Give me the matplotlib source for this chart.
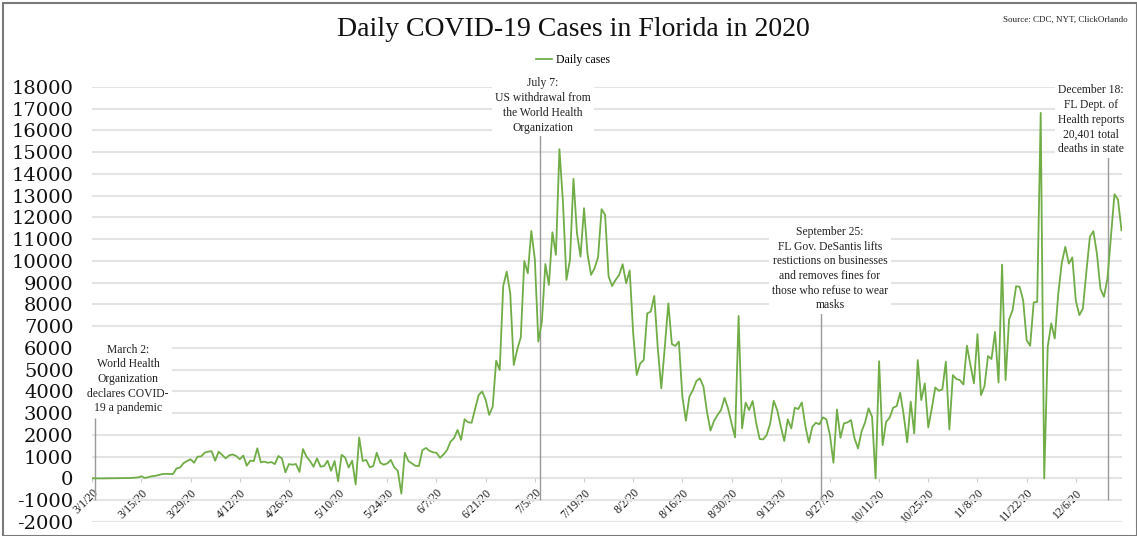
import matplotlib.pyplot as plt
from matplotlib.patches import Rectangle

# x axis labels every 14 days, starting 3/1/20
tick_labels = ['3/1/20', '3/15/20', '3/29/20', '4/12/20', '4/26/20', '5/10/20',
               '5/24/20', '6/7/20', '6/21/20', '7/5/20', '7/19/20', '8/2/20',
               '8/16/20', '8/30/20', '9/13/20', '9/27/20', '10/11/20', '10/25/20',
               '11/8/20', '11/22/20', '12/6/20']

# daily new cases, one value per day from 3/1/20
daily_cases = [
    2, 0, 1, 0, 2, 4, 7, 5, 6, 11, 14, 19, 30, 45,
    100, 20, 60, 100, 120, 160, 200, 210, 205, 200,
    460, 500, 700, 800, 880, 720, 1000, 1010, 1180, 1230,
    1250, 815, 1230, 1080, 920, 1060, 1100, 1030, 880, 1050,
    585, 815, 800, 1385, 740, 770, 720, 750, 660, 1030,
    920, 280, 660, 630, 660, 300, 1350, 1000, 800, 540,
    920, 540, 570, 815, 350, 800, -120, 1080, 960, 500,
    815, -280, 1880, 800, 850, 510, 570, 1180, 720, 630,
    690, 850, 510, 350, -700, 1180, 800, 690, 580, 570,
    1300, 1400, 1270, 1200, 1180, 950, 1100, 1300, 1690, 1850,
    2230, 1770, 2720, 2580, 2560, 3200, 3830, 4000, 3615, 2920,
    3300, 5415, 4985, 8850, 9510, 8510, 5215, 5935, 6490, 10000,
    9430, 11380, 10080, 6290, 7210, 9860, 8900, 11320, 10280, 15140,
    12730, 9130, 10050, 13775, 11275, 10200, 12425, 10325, 9360, 9665,
    10170, 12380, 12120, 9280, 8850, 9130, 9360, 9850, 8975, 9560,
    6670, 4755, 5290, 5445, 7590, 7670, 8390, 5980, 4140, 6060,
    8050, 6180, 6090, 6290, 3760, 2655, 3760, 4065, 4480, 4600,
    4220, 3060, 2200, 2640, 2915, 3145, 3710, 3220, 2530, 1885,
    7470, 2300, 3480, 3145, 3560, 2560, 1810, 1795, 1995, 2530,
    3570, 3140, 2400, 1720, 2715, 2300, 3250, 3190, 3495, 2420,
    1645, 2375, 2560, 2485, 2805, 2715, 1995, 720, 3175, 1870,
    2530, 2575, 2685, 1840, 1380, 2150, 2575, 3220, 2835, 0,
    5390, 1530, 2605, 2790, 3250, 3325, 3940, 2910, 1660, 3525,
    2070, 5440, 3600, 4370, 2345, 3220, 4185, 4030, 4090, 5365,
    2250, 4750, 4570, 4520, 4320, 6100, 5210, 4370, 6635, 3830,
    4245, 5625, 5490, 6740, 4410, 9830, 4520, 7310, 7740, 8840,
    8810, 8200, 6360, 6100, 8090, 8120, 16810, 0, 6050, 7130,
    6435, 8500, 9910, 10650, 9880, 10160, 8170, 7510, 7810, 9500,
    11110, 11370, 10340, 8730, 8350, 9190, 11110, 13070, 12820, 11410,
]

event_texts = [
    'March 2:\nWorld Health\nOrganization\ndeclares COVID-\n19 a pandemic',
    'July 7:\nUS withdrawal from\nthe World Health\nOrganization',
    'September 25:\nFL Gov. DeSantis lifts\nrestictions on businesses\nand removes fines for\nthose who refuse to wear\nmasks',
    'December 18:\nFL Dept. of\nHealth reports\n20,401 total\ndeaths in state',
]

plt.rcParams['font.family'] = ['Liberation Serif', 'DejaVu Serif']

W, H = 1137, 536
fig = plt.figure(figsize=(W / 100, H / 100), dpi=100)
x0, x1 = 92.2, 1121.5
y_top, y_bot = 87.0, 521.9
ax = fig.add_axes([x0 / W, 1 - y_bot / H, (x1 - x0) / W, (y_bot - y_top) / H])

days = list(range(len(daily_cases)))
line, = ax.plot(days, daily_cases, color='#70ad47', lw=1.3, zorder=3, label='Daily cases')

ax.set_xlim(0, len(daily_cases) - 1)
ax.set_ylim(-2000, 18000)
ax.set_yticks(range(-2000, 18001, 1000))
ax.set_yticklabels([str(v) for v in range(-2000, 18001, 1000)],
                   fontfamily='DejaVu Serif', fontsize=14)
ax.yaxis.grid(True, color='#e4e4e4', lw=1.5)
ax.set_axisbelow(True)
for s in ax.spines.values():
    s.set_visible(False)
ax.tick_params(axis='y', length=0, pad=13.5, colors='#111111')

ax.spines['bottom'].set_position(('data', 0))
ax.set_xticks(range(0, 14 * len(tick_labels), 14))
ax.set_xticklabels(tick_labels, rotation=45, ha='right', va='top',
                   rotation_mode='anchor', fontsize=8.5)
ax.tick_params(axis='x', length=3, color='#cccccc', pad=3, labelcolor='#1a1a1a')

# event markers
event_pos = [(0.8, 2800, 10.2, 4570), (127.6, 15780, 128.3, 17150),
             (207.4, 7600, 210.0, 9650), (289.1, 14850, 284.3, 16500)]
for text, (lx, ltop, tx, ty) in zip(event_texts, event_pos):
    ax.vlines(lx, -1000, ltop, color='#9a9a9a', lw=1, zorder=2)
    ax.text(tx, ty, text, ha='center', va='center', fontsize=8.4,
            linespacing=1.3, color='#222222', zorder=4,
            bbox=dict(facecolor='white', edgecolor='none', pad=2))

fig.text(573 / W, 1 - 30 / H, 'Daily COVID-19 Cases in Florida in 2020',
         ha='center', va='center', fontsize=20, color='#111111')
fig.text(1128 / W, 1 - 20 / H, 'Source: CDC, NYT, ClickOrlando',
         ha='right', va='center', fontsize=6.5, color='#222222')
ax.legend(handles=[line], loc='center', bbox_to_anchor=(573 / W, 1 - 60 / H),
          bbox_transform=fig.transFigure, frameon=False, fontsize=8.5,
          handlelength=1.4, handletextpad=0.3)

fig.add_artist(Rectangle((3 / W, 0), 1 - 3 / W, 1 - 3 / H, transform=fig.transFigure,
                         fill=False, ec='#7a7a7a', lw=1.5))

fig.savefig('out.png', dpi=100)
